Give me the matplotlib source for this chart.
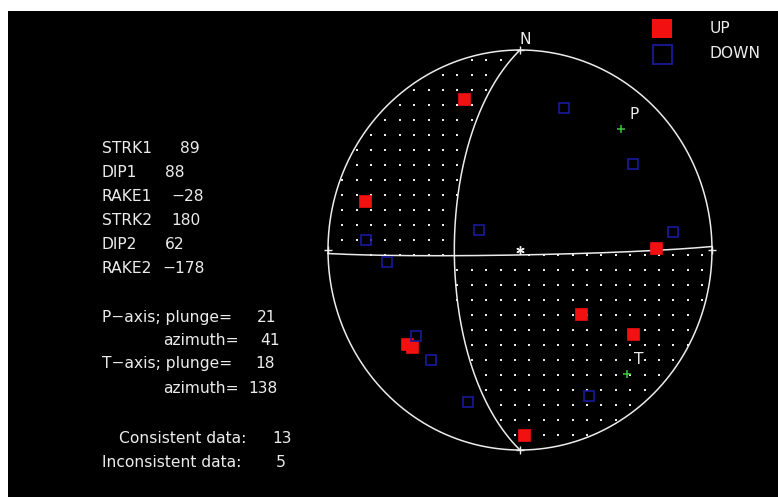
import numpy as np
import matplotlib
matplotlib.use("Agg")
import matplotlib.pyplot as plt
from matplotlib.patches import Rectangle

# Focal mechanism solution
strike1, dip1, rake1 = 89, 88, -28
strike2, dip2, rake2 = 180, 62, -178
p_plunge, p_azimuth = 21, 41
t_plunge, t_azimuth = 18, 138
n_consistent, n_inconsistent = 13, 5

# First-motion polarities: azimuth (deg from N) and take-off angle (deg from vertical down)
up_azimuth = [339.0, 287.0, 89.0, 135.1, 125.7, 178.6, 231.2, 229.2]
up_takeoff = [69.8, 73.3, 60.1, 37.3, 61.5, 81.6, 64.3, 63.6]
down_azimuth = [18.0, 53.9, 83.5, 273.6, 295.1, 265.2, 231.6, 220.1, 199.8, 153.8]
down_takeoff = [63.6, 62.2, 69.2, 69.4, 19.2, 59.0, 58.6, 61.1, 69.5, 70.3]

WHITE = "#ececec"
RED = "#f21010"
BLUE = "#1a1a9c"
GREEN = "#3cc43c"
FONT = "DejaVu Sans"


def project(az, takeoff):
    """Lower-hemisphere equal-area (Schmidt) projection, unit radius."""
    az = np.radians(np.asarray(az, float))
    r = np.sqrt(2.0) * np.sin(np.radians(np.asarray(takeoff, float)) / 2.0)
    return r * np.sin(az), r * np.cos(az)


def nodal_plane(strike, dip, n=181):
    phi, dl = np.radians(strike), np.radians(dip)
    t = np.linspace(0, np.pi, n)
    s = np.array([np.cos(phi), np.sin(phi), 0.0])
    d = np.array([np.cos(dl) * np.cos(phi + np.pi / 2),
                  np.cos(dl) * np.sin(phi + np.pi / 2), np.sin(dl)])
    v = np.outer(np.cos(t), s) + np.outer(np.sin(t), d)
    north, east, down = v.T
    takeoff = np.degrees(np.arccos(np.clip(down, -1, 1)))
    az = np.degrees(np.arctan2(east, north))
    return project(az, takeoff)


def p_amplitude(strike, dip, rake, x, y):
    """P radiation for points of the projection (N, E, Down frame)."""
    f, d, l = np.radians(strike), np.radians(dip), np.radians(rake)
    mxx = -(np.sin(d) * np.cos(l) * np.sin(2 * f) + np.sin(2 * d) * np.sin(l) * np.sin(f) ** 2)
    mxy = np.sin(d) * np.cos(l) * np.cos(2 * f) + 0.5 * np.sin(2 * d) * np.sin(l) * np.sin(2 * f)
    mxz = -(np.cos(d) * np.cos(l) * np.cos(f) + np.cos(2 * d) * np.sin(l) * np.sin(f))
    myy = np.sin(d) * np.cos(l) * np.sin(2 * f) - np.sin(2 * d) * np.sin(l) * np.cos(f) ** 2
    myz = -(np.cos(d) * np.cos(l) * np.sin(f) - np.cos(2 * d) * np.sin(l) * np.cos(f))
    mzz = np.sin(2 * d) * np.sin(l)
    r = np.hypot(x, y)
    inc = 2 * np.arcsin(np.clip(r / np.sqrt(2), 0, 1))
    az = np.arctan2(x, y)
    gx, gy, gz = np.sin(inc) * np.cos(az), np.sin(inc) * np.sin(az), np.cos(inc)
    return (mxx * gx * gx + myy * gy * gy + mzz * gz * gz
            + 2 * mxy * gx * gy + 2 * mxz * gx * gz + 2 * myz * gy * gz)


fig = plt.figure(figsize=(7.78, 4.97), dpi=100, facecolor="white")

# Page in pixel units: black panel and text block
bg = fig.add_axes([0, 0, 1, 1])
bg.set_xlim(0, 778)
bg.set_ylim(497, 0)
bg.axis("off")
bg.add_patch(Rectangle((8, 11), 770, 486, facecolor="black", edgecolor="none"))

txt = dict(color=WHITE, family=FONT, fontsize=11.2, va="baseline", ha="left")
rows = [("STRK1", strike1, 153, 180), ("DIP1", dip1, 176.7, 165),
        ("RAKE1", rake1, 200.7, 171.7), ("STRK2", strike2, 225, 171.7),
        ("DIP2", dip2, 249, 165), ("RAKE2", rake2, 273.3, 162.7)]
for name, val, yb, xv in rows:
    bg.text(102, yb, name, **txt)
    bg.text(xv, yb, f"{val}".replace("-", "\u2212"), **txt)

bg.text(102, 321.7, "P\u2212axis; plunge=", **txt)
bg.text(256.7, 321.7, f"{p_plunge}", **txt)
bg.text(163.3, 345, "azimuth=", **txt)
bg.text(260, 345, f"{p_azimuth}", **txt)
bg.text(102, 368.3, "T\u2212axis; plunge=", **txt)
bg.text(255.7, 368.3, f"{t_plunge}", **txt)
bg.text(163.3, 393.3, "azimuth=", **txt)
bg.text(248.3, 393.3, f"{t_azimuth}", **txt)
bg.text(119.3, 442.7, "Consistent data:", **txt)
bg.text(272.7, 442.7, f"{n_consistent}", **txt)
bg.text(102.3, 466.7, "Inconsistent data:", **txt)
bg.text(275.7, 466.7, f"{n_inconsistent}", **txt)

# Legend
bg.add_patch(Rectangle((652, 19), 20, 19, facecolor=RED, edgecolor="none"))
bg.add_patch(Rectangle((653, 45), 19, 19, facecolor="none", edgecolor=BLUE, linewidth=1.3))
bg.text(710, 33, "UP", **txt)
bg.text(710, 58, "DOWN", **txt)

# Stereonet
ax = fig.add_axes([328 / 778, 47 / 497, 384 / 778, 400 / 497])
ax.set_xlim(-1, 1)
ax.set_ylim(-1, 1)
ax.axis("off")
ax.patch.set_visible(False)

# Compressional quadrants as a dot pattern
gx = -0.026 + 0.075 * np.arange(-14, 15)
gy = -0.025 + 0.075 * np.arange(-14, 15)
GX, GY = np.meshgrid(gx, gy)
inside = np.hypot(GX, GY) <= 0.995
comp = p_amplitude(strike1, dip1, rake1, GX, GY) > 0
sel = inside & comp
ax.scatter(GX[sel], GY[sel], marker="s", s=3.9, color=WHITE, linewidths=0, clip_on=False)

th = np.linspace(0, 2 * np.pi, 400)
ax.plot(np.cos(th), np.sin(th), color=WHITE, lw=1.1, clip_on=False)
for st, dp in [(strike1, dip1), (strike2, dip2)]:
    x, y = nodal_plane(st, dp)
    ax.plot(x, y, color=WHITE, lw=1.1, clip_on=False)

ax.plot([0, 0, -1, 1], [1, -1, 0, 0], ls="none", marker="+", ms=6, mew=1.0,
        color=WHITE, clip_on=False)
ax.plot([0], [0], ls="none", marker=(6, 2, 0), ms=6, mew=1.0, color=WHITE, clip_on=False)

ux, uy = project(up_azimuth, up_takeoff)
ax.plot(ux, uy, ls="none", marker="s", ms=8, mfc=RED, mec=RED, mew=0.5, clip_on=False)
dx, dy = project(down_azimuth, down_takeoff)
ax.plot(dx, dy, ls="none", marker="s", ms=7.6, mfc="none", mec=BLUE, mew=1.2, clip_on=False)

px, py = project(p_azimuth, 90 - p_plunge)
tx, ty = project(t_azimuth, 90 - t_plunge)
ax.plot([px, tx], [py, ty], ls="none", marker="+", ms=6, mew=1.1, color=GREEN, clip_on=False)

bg.text(525, 44, "N", color=WHITE, family=FONT, fontsize=11.2, ha="center", va="baseline")
bg.text(634, 119, "P", color=WHITE, family=FONT, fontsize=11.2, ha="center", va="baseline")
bg.text(638.5, 364, "T", color=WHITE, family=FONT, fontsize=11.2, ha="center", va="baseline")

fig.savefig("out.png", dpi=100, facecolor="white")
